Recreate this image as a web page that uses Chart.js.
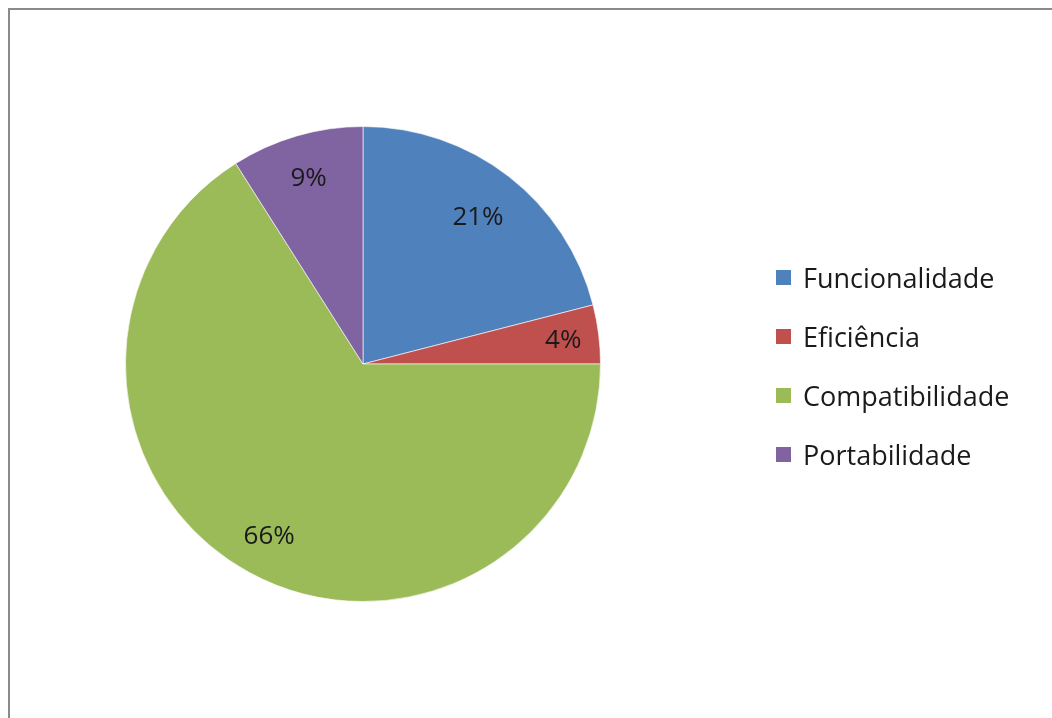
<!DOCTYPE html>
<html>
<head>
<meta charset="utf-8">
<script src="https://cdn.jsdelivr.net/npm/chart.js@4/dist/chart.umd.min.js"></script>
<style>
  html, body { margin: 0; padding: 0; background: #fff; overflow: hidden; }
  #wrap { position: relative; width: 1052px; height: 718px; }
  #frame { position: absolute; left: 8px; top: 8px; width: 1100px; height: 800px;
           border-left: 2px solid #8a8a8a; border-top: 2px solid #8a8a8a; }
  #legend { position: absolute; left: 776px; top: 248px; font-family: "Open Sans", sans-serif;
            font-size: 27px; color: #1a1a1a; }
  #legend div { height: 59px; line-height: 59px; display: flex; align-items: center; white-space: nowrap; }
  #legend span.box { width: 15px; height: 15px; margin-right: 12px; flex: none; }
  canvas { position: absolute; left: 0; top: 0; }
</style>
</head>
<body>
<div id="wrap">
  <div id="frame"></div>
  <canvas id="myChart" width="1052" height="718"></canvas>
  <div id="legend"></div>
</div>
<script>
const categories = ["Funcionalidade", "Eficiência", "Compatibilidade", "Portabilidade"];
const percentages = [21, 4, 66, 9];
const colors = ["#4F81BD", "#C0504D", "#9BBB59", "#8064A2"];

// how far out (fraction of radius) each slice label sits
const labelRadius = [0.79, 0.85, 0.82, 0.82];

// writes the percentage inside each slice
const sliceLabels = {
  id: 'sliceLabels',
  afterDatasetsDraw(chart) {
    const ctx = chart.ctx;
    const meta = chart.getDatasetMeta(0);
    ctx.save();
    ctx.font = '26px "Open Sans", sans-serif';
    ctx.fillStyle = '#1a1a1a';
    ctx.textAlign = 'center';
    ctx.textBaseline = 'middle';
    meta.data.forEach((arc, i) => {
      const mid = (arc.startAngle + arc.endAngle) / 2;
      const r = arc.outerRadius * labelRadius[i];
      ctx.fillText(percentages[i] + '%', arc.x + Math.cos(mid) * r, arc.y + Math.sin(mid) * r + 2);
    });
    ctx.restore();
  }
};

const data = {
  labels: categories,
  datasets: [{
    data: percentages,
    backgroundColor: colors,
    borderColor: "rgba(255,255,255,0.6)",
    borderWidth: 1
  }]
};

const config = {
  type: 'pie',
  data: data,
  options: {
    responsive: false,
    animation: false,
    layout: {
      padding: { left: 125, top: 125, right: 451, bottom: 115 }
    },
    plugins: {
      legend: { display: false },
      tooltip: { enabled: false }
    }
  },
  plugins: [sliceLabels]
};

const ctx = document.getElementById('myChart').getContext('2d');
const myChart = new Chart(ctx, config);

// legend to the right of the pie
const legendEl = document.getElementById('legend');
categories.forEach((name, i) => {
  const row = document.createElement('div');
  const box = document.createElement('span');
  box.className = 'box';
  box.style.background = colors[i];
  row.appendChild(box);
  row.appendChild(document.createTextNode(name));
  legendEl.appendChild(row);
});
</script>
</body>
</html>
